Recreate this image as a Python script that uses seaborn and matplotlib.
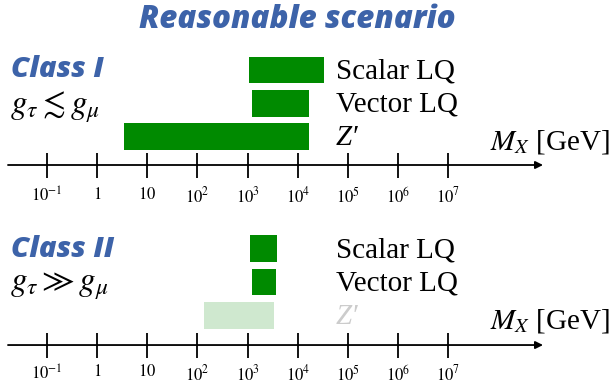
import matplotlib
matplotlib.use("Agg")
import matplotlib.pyplot as plt
import matplotlib.transforms as mtransforms
from matplotlib.ticker import NullLocator
import pandas as pd
import seaborn as sns

# Mass ranges (GeV) for each mediator, per coupling class
particles = ["Scalar LQ", "Vector LQ", "Z\u2032"]
particle_italic = [False, False, True]
class1_low = [1.06e3, 1.22e3, 3.4]
class1_high = [3.3e4, 1.67e4, 1.7e4]
class2_low = [1.12e3, 1.24e3, 1.37e2]
class2_high = [3.8e3, 3.6e3, 3.4e3]
class2_disfavoured = [False, False, True]

tick_values = [1e-1, 1, 1e1, 1e2, 1e3, 1e4, 1e5, 1e6, 1e7]
tick_labels = [r"$10^{-1}$", r"$1$", r"$10$", r"$10^{2}$", r"$10^{3}$",
               r"$10^{4}$", r"$10^{5}$", r"$10^{6}$", r"$10^{7}$"]

title = "Reasonable scenario"
class_names = ["Class I", "Class II"]
class_relations = [r"$g_\tau \lesssim g_\mu$", r"$g_\tau \gg g_\mu$"]
axis_label = r"$M_X$ [GeV]"

sns.set_theme(style="white")
plt.rcParams["font.family"] = ["Liberation Serif", "DejaVu Serif"]
plt.rcParams["mathtext.fontset"] = "stix"

GREEN = "#008a00"
FADED_GREEN = "#cfe8cf"
FADED_TEXT = "#cccccc"
BLUE = "#3d63a9"
SANS = ["Open Sans", "Lato", "DejaVu Sans"]

W, H = 613, 384
fig = plt.figure(figsize=(W / 100, H / 100), dpi=100)
fig.patch.set_facecolor("white")

XLIM = (10 ** -1.932, 10 ** 10.279)
AXIS_START, AXIS_END = 10 ** -1.773, 10 ** 8.885
LABEL_X = 336 / W


def draw_panel(ax, lows, highs, faded, axis_row, label_pad):
    df = pd.DataFrame({"particle": particles, "italic": particle_italic,
                       "low": lows, "high": highs, "faded": faded})
    df["row"] = range(len(df))
    ax.set_xscale("log")
    ax.set_xlim(*XLIM)
    colors = [FADED_GREEN if f else GREEN for f in df["faded"]]
    ax.barh(df["row"], df["high"] - df["low"], left=df["low"], height=0.8,
            color=colors, edgecolor="none")
    blend = mtransforms.blended_transform_factory(ax.transAxes, ax.transData)
    for _, r in df.iterrows():
        ax.text(LABEL_X, r["row"] + 0.25, r["particle"], transform=blend,
                fontsize=21, ha="left", va="baseline",
                fontstyle="italic" if r["italic"] else "normal",
                color=FADED_TEXT if r["faded"] else "black")
    ax.text(0.995, 2.38, axis_label, transform=blend, fontsize=21,
            ha="right", va="baseline", color="black")

    # number line with arrow
    for s in ax.spines.values():
        s.set_visible(False)
    ax.spines["bottom"].set_position(("data", axis_row))
    ax.annotate("", xy=(AXIS_END, axis_row), xytext=(AXIS_START, axis_row),
                arrowprops=dict(arrowstyle="-|>", color="black", lw=1.3,
                                mutation_scale=11, shrinkA=0, shrinkB=0))
    ax.set_xticks(tick_values, tick_labels)
    ax.xaxis.set_minor_locator(NullLocator())
    ax.tick_params(axis="x", direction="inout", length=18, width=1.3,
                   pad=label_pad, labelsize=12, colors="black", bottom=True)
    ax.set_yticks([])
    ax.patch.set_visible(False)
    ax.grid(False)


ax_top = fig.add_axes([0, 1 - 215 / H, 1, 175 / H])
ax_top.set_ylim(4.35, -0.9)
draw_panel(ax_top, class1_low, class1_high, [False] * 3, 2.85, 6.5)

ax_bot = fig.add_axes([0, 0, 1, 169 / H])
ax_bot.set_ylim(4.059, -1.011)
draw_panel(ax_bot, class2_low, class2_high, class2_disfavoured, 2.89, 5.0)

fig.text(297 / W, 1 - 20 / H, title, ha="center", va="center", fontsize=22.5,
         fontweight="heavy", fontstyle="italic", color=BLUE, family=SANS)
for name, rel, base, mid in zip(class_names, class_relations,
                                [76.7, 256.7], [107.5, 286]):
    fig.text(11 / W, 1 - base / H, name, ha="left", va="baseline",
             fontsize=21, fontweight="heavy", fontstyle="italic",
             color=BLUE, family=SANS)
    fig.text(10 / W, 1 - mid / H, rel, ha="left", va="center", fontsize=24,
             color="black")

fig.savefig("out.png", dpi=100, facecolor="white")
